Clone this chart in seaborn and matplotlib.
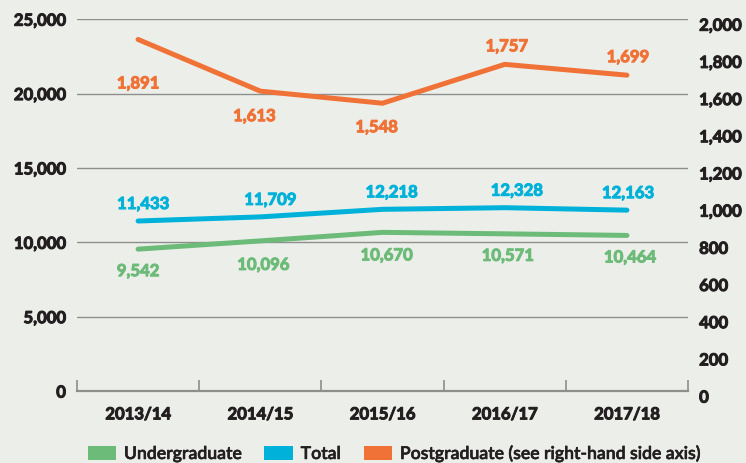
import os
import numpy as np
import pandas as pd
import matplotlib
matplotlib.use("Agg")
import matplotlib.pyplot as plt
import matplotlib.transforms as mtransforms
import matplotlib.patheffects as pe
from matplotlib import font_manager as fm
from matplotlib.patches import Patch
import seaborn as sns

years = ["2013/14", "2014/15", "2015/16", "2016/17", "2017/18"]
undergraduate = [9542, 10096, 10670, 10571, 10464]
total = [11433, 11709, 12218, 12328, 12163]
postgraduate = [1891, 1613, 1548, 1757, 1699]
left_ticks = [0, 5000, 10000, 15000, 20000, 25000]
right_ticks = [0, 200, 400, 600, 800, 1000, 1200, 1400, 1600, 1800, 2000]
legend_labels = ["Undergraduate", "Total", "Postgraduate (see right-hand side axis)"]

BG = "#ECEEEA"
GREEN = "#6DBB78"
BLUE = "#00B2D9"
ORANGE = "#F07236"
DARK = "#231F20"
GRID = "#8E8E8C"


def _weight_of(f):
    base = os.path.basename(f.fname).lower()
    for key, w in (("extrabold", 800), ("semibold", 600), ("black", 900), ("heavy", 850),
                   ("bold", 700), ("medium", 500), ("light", 300), ("thin", 100)):
        if key in base:
            return w
    w = f.weight
    if isinstance(w, str):
        w = fm.weight_dict.get(w, 400)
    return int(w)


def pick_font(target, families=("Lato", "Roboto Condensed", "Roboto", "Open Sans", "DejaVu Sans")):
    for fam in families:
        cands = [f for f in fm.fontManager.ttflist
                 if f.name == fam and f.style == "normal"
                 and "italic" not in os.path.basename(f.fname).lower()
                 and "[" not in os.path.basename(f.fname)]
        cands = [f for f in cands if abs(_weight_of(f) - target) <= 100]
        if cands:
            best = min(cands, key=lambda f: abs(_weight_of(f) - target))
            return best.fname
    return None


BOLD_FILE = pick_font(700)
SEMI_FILE = pick_font(600)


def fp(size, fname=BOLD_FILE):
    if fname:
        return fm.FontProperties(fname=fname, size=size)
    return fm.FontProperties(family="DejaVu Sans", weight="bold", size=size)


def heavy(color, lw=0.75):
    return [pe.withStroke(linewidth=lw, foreground=color)]


sns.set_theme(style="white")
plt.rcParams["font.family"] = ["Lato", "DejaVu Sans"]

df_left = pd.DataFrame({
    "year": years * 2,
    "value": undergraduate + total,
    "series": ["Undergraduate"] * 5 + ["Total"] * 5,
})
df_right = pd.DataFrame({"year": years, "value": postgraduate})

fig = plt.figure(figsize=(7.46, 4.64), dpi=100, facecolor=BG)
ax = fig.add_axes([0.1032, 0.155, 0.8191, 0.8015])
ax.set_facecolor(BG)

sns.lineplot(data=df_left, x="year", y="value", hue="series",
             palette={"Undergraduate": GREEN, "Total": BLUE},
             linewidth=3.6, ax=ax, legend=False, sort=False)
for ln in ax.lines:
    ln.set_solid_capstyle("round")

ax2 = ax.twinx()
sns.lineplot(data=df_right, x="year", y="value", color=ORANGE,
             linewidth=3.6, ax=ax2, legend=False, sort=False)
for ln in ax2.lines:
    ln.set_solid_capstyle("round")

ax.set_xlim(-0.5, 4.5)
ax.set_ylim(0, 25000)
ax2.set_ylim(0, 2000)

# left axis + gridlines
ax.set_yticks(left_ticks)
ax.set_yticklabels([f"{v:,}" for v in left_ticks], color=DARK)
for lab in ax.get_yticklabels():
    lab.set_fontproperties(fp(12))
    lab.set_path_effects(heavy(DARK))
for v in left_ticks[1:]:
    ax.axhline(v, color=GRID, linewidth=1.0, zorder=0)
ax.tick_params(axis="y", length=0, pad=8)

# right axis
ax2.set_yticks(right_ticks)
ax2.set_yticklabels([f"{v:,}" for v in right_ticks], color=DARK)
ax2.tick_params(axis="y", length=0, pad=8)
offset = mtransforms.ScaledTranslation(0, -5 / 100, fig.dpi_scale_trans)
for lab in ax2.get_yticklabels():
    lab.set_fontproperties(fp(12))
    lab.set_path_effects(heavy(DARK))
    lab.set_transform(lab.get_transform() + offset)

# x axis
ax.set_xticks(range(len(years)))
ax.set_xticklabels(years, color=DARK)
for lab in ax.get_xticklabels():
    lab.set_fontproperties(fp(12))
    lab.set_path_effects(heavy(DARK))
ax.set_xticks(np.arange(-0.5, 5.0, 1.0), minor=True)
ax.tick_params(axis="x", which="major", length=0, pad=11)
ax.tick_params(axis="x", which="minor", direction="in", length=8, width=1.2, color=GRID, bottom=True)
ax.set_xlabel("")
ax.set_ylabel("")
ax2.set_ylabel("")

for a in (ax, ax2):
    for s in ["top", "left", "right", "bottom"]:
        a.spines[s].set_visible(False)
ax.spines["bottom"].set_visible(True)
ax.spines["bottom"].set_color(GRID)
ax.spines["bottom"].set_linewidth(1.6)

# data labels (offsets in pixels)
green_dy = [-22, -24, -23, -22, -22]
blue_dy = [17, 17, 17, 17, 17]
orange_dy = [-44, -25, -24, 18, 18]
green_dx = [0, 3, 4, 3, 3]
blue_dx = [5, 10, 9, 12, 1]
orange_dx = [0, -6, -6, 2, 1]
for i, v in enumerate(undergraduate):
    ax.annotate(f"{v:,}", (i, v), xytext=(green_dx[i] * 0.72, green_dy[i] * 0.72),
                textcoords="offset points", ha="center", va="center",
                fontproperties=fp(12), color=GREEN, path_effects=heavy(GREEN))
for i, v in enumerate(total):
    ax.annotate(f"{v:,}", (i, v), xytext=(blue_dx[i] * 0.72, blue_dy[i] * 0.72),
                textcoords="offset points", ha="center", va="center",
                fontproperties=fp(12), color=BLUE, path_effects=heavy(BLUE))
for i, v in enumerate(postgraduate):
    ax2.annotate(f"{v:,}", (i, v), xytext=(orange_dx[i] * 0.72, orange_dy[i] * 0.72),
                 textcoords="offset points", ha="center", va="center",
                 fontproperties=fp(12), color=ORANGE, path_effects=heavy(ORANGE))

handles = [Patch(facecolor=c, edgecolor="none") for c in (GREEN, BLUE, ORANGE)]
leg = fig.legend(handles, legend_labels, loc="center", bbox_to_anchor=(0.528, 0.02),
                 ncol=3, frameon=False, handlelength=1.6, handleheight=0.8,
                 handletextpad=0.45, columnspacing=1.3,
                 prop=fp(12.7, SEMI_FILE))
for t in leg.get_texts():
    t.set_color(DARK)
    t.set_path_effects(heavy(DARK, 0.4))

fig.savefig("out.png", dpi=100, facecolor=BG)
